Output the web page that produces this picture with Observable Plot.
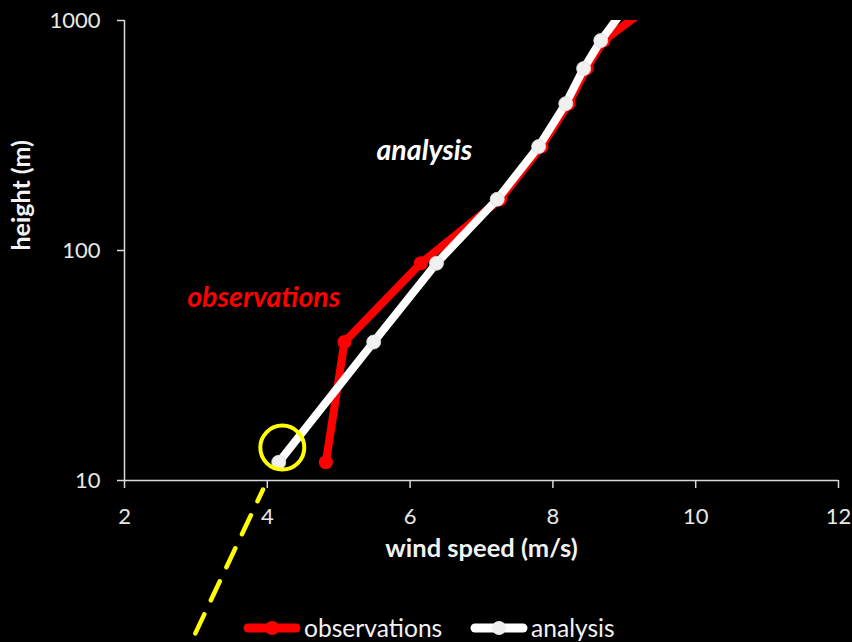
<!DOCTYPE html>
<html>
<head>
<meta charset="utf-8">
<script src="https://cdn.jsdelivr.net/npm/d3@7"></script>
<script src="https://cdn.jsdelivr.net/npm/@observablehq/plot@0.6"></script>
<style>
  html, body { margin: 0; padding: 0; background: #000; }
  #wrap { position: relative; width: 852px; height: 642px; background: #000; font-family: Lato, "Open Sans", sans-serif; }
  #legend { position: absolute; left: 0; top: 614px; width: 852px; height: 28px; }
  .item { position: absolute; top: 0; display: flex; align-items: center; color: #f2f2f2; font-size: 24.6px; line-height: 28px; }
  .item svg { margin-right: 3px; }
</style>
</head>
<body>
<div id="wrap"><div id="legend"></div></div>
<script>
// Wind profile: height above ground (m) and wind speed (m/s)
const heights  = [12, 40, 88, 167, 283, 435, 618, 818, 1200];
const obsSpeed = [4.82, 5.08, 6.15, 7.26, 7.84, 8.22, 8.47, 8.71, 9.43];
const anaSpeed = [4.16, 5.49, 6.37, 7.22, 7.80, 8.18, 8.43, 8.67, 9.07];

// Log-law extrapolation below the lowest level, and the highlighted point
const extrapSpeed  = [3.94, 2.94];
const extrapHeight = [9.14, 2.0];
const highlight = [{speed: 4.21, height: 13.9}];

const seriesNames  = ["observations", "analysis"];
const seriesColors = ["#ff0000", "#ffffff"];
const markerFills  = ["#ff0000", "#f0f0f0"];

const xTicks = [2, 4, 6, 8, 10, 12];
const yTicks = [10, 100, 1000];

const obs = heights.map((h, i) => ({height: h, speed: obsSpeed[i]}));
const ana = heights.map((h, i) => ({height: h, speed: anaSpeed[i]}));
const extrap = extrapHeight.map((h, i) => ({height: h, speed: extrapSpeed[i]}));
const notes = [
  {text: "analysis", speed: 6.2, height: 272, color: seriesColors[1]},
  {text: "observations", speed: 3.95, height: 62.5, color: seriesColors[0]}
];

const axisColor = "#d9d9d9";

const chart = Plot.plot({
  width: 852,
  height: 642,
  marginLeft: 124,
  marginRight: 14,
  marginTop: 20,
  marginBottom: 162,
  style: {background: "#000", color: "#e8e8e8", fontFamily: "Lato, 'Open Sans', sans-serif", overflow: "visible"},
  x: {domain: [2, 12]},
  y: {type: "log", domain: [10, 1000]},
  marks: [
    Plot.axisX({ticks: xTicks, tickSize: 8, tickPadding: 20, fontSize: 22, stroke: axisColor, strokeWidth: 1.5, label: null, tickFormat: d => String(d)}),
    Plot.axisY({ticks: yTicks, tickSize: 7, tickPadding: 17, fontSize: 22, stroke: axisColor, strokeWidth: 1.5, label: null, tickFormat: d => String(d)}),
    Plot.ruleY([10], {stroke: axisColor, strokeWidth: 1.5}),
    Plot.ruleX([2], {stroke: axisColor, strokeWidth: 1.5}),
    Plot.text(["wind speed (m/s)"], {frameAnchor: "bottom", dy: 76, fontSize: 25.5, fontWeight: "bold", fill: "#f2f2f2"}),
    Plot.text(["height (m)"], {frameAnchor: "left", dx: -103, rotate: -90, fontSize: 25, fontWeight: "bold", fill: "#f2f2f2"}),
    // observations
    Plot.line(obs, {x: "speed", y: "height", stroke: seriesColors[0], strokeWidth: 8, strokeLinejoin: "round", strokeLinecap: "round", clip: true}),
    Plot.dot(obs, {x: "speed", y: "height", r: 7, fill: markerFills[0], clip: true}),
    // analysis
    Plot.line(ana, {x: "speed", y: "height", stroke: seriesColors[1], strokeWidth: 8, strokeLinejoin: "round", strokeLinecap: "round", clip: true}),
    Plot.dot(ana, {x: "speed", y: "height", r: 7, fill: markerFills[1], stroke: "#dcdcdc", strokeWidth: 0.8, clip: true}),
    // extrapolation towards the surface
    Plot.line(extrap, {x: "speed", y: "height", stroke: "#ffff00", strokeWidth: 4.5, strokeDasharray: "21,15.5", strokeDashoffset: 8}),
    Plot.dot(highlight, {x: "speed", y: "height", r: 22, stroke: "#ffff00", strokeWidth: 4, fill: "none"}),
    Plot.text(notes, {x: "speed", y: "height", text: "text", fill: "color", fontSize: 28.5, fontWeight: "bold", fontStyle: "italic"})
  ]
});

const wrap = document.getElementById("wrap");
wrap.insertBefore(chart, wrap.firstChild);

// Legend: line + marker swatch for each series
const legend = document.getElementById("legend");
const legendLeft = [243, 470];
seriesNames.forEach((name, i) => {
  const item = document.createElement("div");
  item.className = "item";
  item.style.left = legendLeft[i] + "px";
  const sw = d3.create("svg").attr("width", 58).attr("height", 28);
  sw.append("line").attr("x1", 5).attr("x2", 53).attr("y1", 14).attr("y2", 14)
    .attr("stroke", seriesColors[i]).attr("stroke-width", 9).attr("stroke-linecap", "round");
  sw.append("circle").attr("cx", 29).attr("cy", 14).attr("r", 7).attr("fill", markerFills[i]);
  item.appendChild(sw.node());
  const label = document.createElement("span");
  label.textContent = name;
  item.appendChild(label);
  legend.appendChild(item);
});
</script>
</body>
</html>
